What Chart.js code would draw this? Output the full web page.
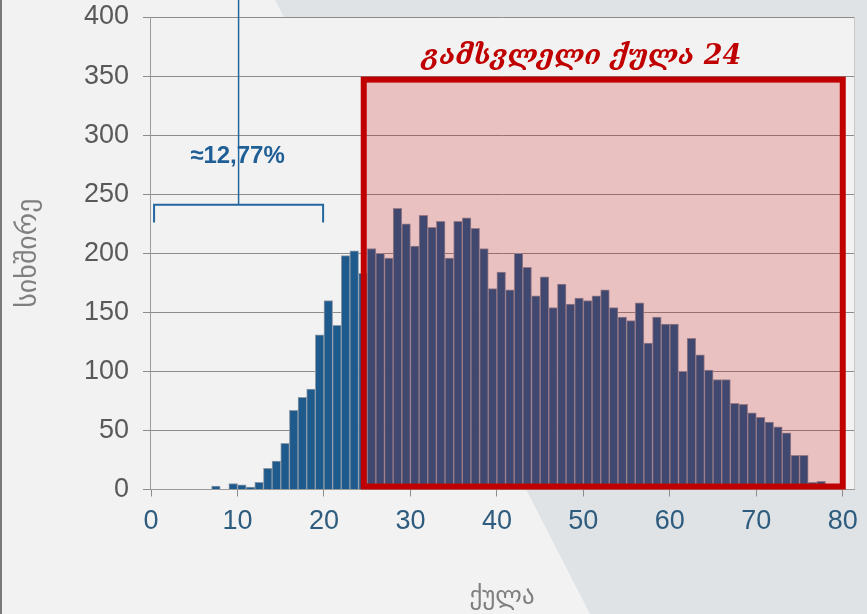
<!DOCTYPE html>
<html>
<head>
<meta charset="utf-8">
<script src="https://cdn.jsdelivr.net/npm/chart.js@4"></script>
<style>
  html, body { margin: 0; padding: 0; background: #f2f2f2; }
  #wrap { width: 867px; height: 614px; }
</style>
</head>
<body>
<div id="wrap"><canvas id="myChart" width="867" height="614"></canvas></div>
<script>
// ქულების განაწილება (0..78), თითო სვეტი = 1 ქულა
const scores = [];
for (let i = 0; i <= 78; i++) scores.push(i);
const counts = [
    0, 0, 0, 0, 0, 0, 0, 3, 0, 5,
    4, 2, 6, 18, 24, 39, 67, 78, 85, 131,
    160, 139, 198, 202, 183, 204, 200, 196, 238, 225,
    206, 232, 222, 227, 196, 227, 230, 221, 204, 170,
    184, 169, 200, 188, 164, 180, 154, 174, 157, 162,
    160, 164, 169, 154, 146, 143, 158, 124, 146, 140,
    140, 100, 128, 114, 101, 93, 93, 73, 72, 65,
    61, 57, 53, 48, 29, 29, 6, 7, 0
];
const xTicks = [0, 10, 20, 30, 40, 50, 60, 70, 80];
const yTicks = [0, 50, 100, 150, 200, 250, 300, 350, 400];

const titleText = 'გამსვლელი ქულა 24';
const shareText = '≈12,77%';
// ანოტაციები მონაცემთა ერთეულებში
const passBox = { x0: 24.6, x1: 80, y0: 0, y1: 347 };
const bracket = { x0: 0.35, x1: 19.9, y: 241, yEnd: 226, top: 420 };
const shareLabel = { x: 10, y: 282 };
const titleLabel = { x: 49.8, y: 366 };

const points = [];
scores.forEach(function(s, i) {
    if (counts[i] > 0) points.push({ x: s + 0.5, y: counts[i] });
});

const slideBg = {
    id: 'slideBg',
    beforeDraw: function(chart) {
        const c = chart.ctx;
        const a = chart.chartArea;
        c.save();
        c.fillStyle = '#f2f2f2';
        c.fillRect(0, 0, chart.width, chart.height);
        c.fillStyle = '#dfe3e6';
        c.beginPath();
        c.moveTo(275, 0);
        c.lineTo(chart.width, 0);
        c.lineTo(chart.width, chart.height);
        c.lineTo(590, chart.height);
        c.closePath();
        c.fill();
        c.fillStyle = '#f2f2f2';
        c.fillRect(a.left, a.top, a.right - a.left, a.bottom - a.top);
        c.strokeStyle = '#c8c8c8';
        c.lineWidth = 1;
        c.beginPath();
        c.moveTo(a.right + 0.5, a.top);
        c.lineTo(a.right + 0.5, a.bottom);
        c.stroke();
        c.fillStyle = '#7a7a7a';
        c.fillRect(0, 0, 2, chart.height);
        c.restore();
    }
};

const overlays = {
    id: 'overlays',
    afterDatasetsDraw: function(chart) {
        const c = chart.ctx;
        const xs = chart.scales.x;
        const ys = chart.scales.y;
        c.save();

        // გამსვლელი ზონა
        const l = xs.getPixelForValue(passBox.x0);
        const r = xs.getPixelForValue(passBox.x1);
        const t = ys.getPixelForValue(passBox.y1);
        const b = ys.getPixelForValue(passBox.y0) - 3;
        c.fillStyle = 'rgba(200, 0, 0, 0.2)';
        c.fillRect(l, t, r - l, b - t);
        c.strokeStyle = '#c00000';
        c.lineWidth = 6;
        c.strokeRect(l, t, r - l, b - t);

        // ფრჩხილი 0-20
        const bx0 = xs.getPixelForValue(bracket.x0);
        const bx1 = xs.getPixelForValue(bracket.x1);
        const bxm = xs.getPixelForValue((bracket.x0 + bracket.x1) / 2);
        const by = ys.getPixelForValue(bracket.y);
        const byEnd = ys.getPixelForValue(bracket.yEnd);
        c.strokeStyle = '#2466a0';
        c.lineWidth = 2;
        c.beginPath();
        c.moveTo(bx0, byEnd);
        c.lineTo(bx0, by);
        c.lineTo(bx1, by);
        c.lineTo(bx1, byEnd);
        c.stroke();
        c.lineWidth = 1.5;
        c.beginPath();
        c.moveTo(bxm, by);
        c.lineTo(bxm, ys.getPixelForValue(bracket.top));
        c.stroke();

        c.fillStyle = '#1f5f96';
        c.font = 'bold 24px "Liberation Sans", Arial, sans-serif';
        c.textAlign = 'center';
        c.textBaseline = 'middle';
        c.fillText(shareText, xs.getPixelForValue(shareLabel.x), ys.getPixelForValue(shareLabel.y));

        c.fillStyle = '#c00000';
        c.font = 'italic bold 27px "DejaVu Serif", serif';
        c.fillText(titleText, xs.getPixelForValue(titleLabel.x), ys.getPixelForValue(titleLabel.y));
        c.restore();
    }
};

const ctx = document.getElementById('myChart').getContext('2d');
const myChart = new Chart(ctx, {
    type: 'bar',
    data: {
        datasets: [{
            label: 'სიხშირე',
            data: points,
            backgroundColor: '#1f5a8c',
            borderColor: '#8d9aa8',
            borderWidth: 1,
            barPercentage: 1,
            categoryPercentage: 1
        }]
    },
    options: {
        responsive: false,
        animation: false,
        layout: { padding: { top: 17, right: 13, left: 0, bottom: 0 } },
        plugins: {
            legend: { display: false },
            tooltip: { enabled: false }
        },
        scales: {
            x: {
                type: 'linear',
                offset: false,
                min: -0.12,
                max: 81.3,
                afterFit: function(scale) { scale.height = 124.5; },
                afterBuildTicks: function(scale) {
                    scale.ticks = xTicks.map(function(v) { return { value: v }; });
                },
                grid: { display: true, offset: false, drawOnChartArea: false, drawTicks: true, tickLength: 7, color: '#8c8c8c' },
                border: { display: true, color: '#9a9a9a', width: 1 },
                ticks: {
                    color: '#2e5c7e',
                    padding: 9,
                    maxRotation: 0,
                    autoSkip: false,
                    font: { family: '"Liberation Sans", Arial, sans-serif', size: 27 }
                },
                title: {
                    display: true,
                    text: 'ქულა',
                    color: '#7f7f7f',
                    padding: { top: 0, bottom: 2 },
                    font: { family: '"DejaVu Sans", sans-serif', size: 25 }
                }
            },
            y: {
                min: 0,
                max: 400,
                afterFit: function(scale) { scale.width = 150; },
                afterBuildTicks: function(scale) {
                    scale.ticks = yTicks.map(function(v) { return { value: v }; });
                },
                grid: { color: '#8c8c8c', tickLength: 7, lineWidth: 1 },
                border: { display: true, color: '#9a9a9a', width: 1 },
                ticks: {
                    color: '#595959',
                    padding: 14,
                    font: { family: '"Liberation Sans", Arial, sans-serif', size: 27, lineHeight: 0.2 }
                },
                title: {
                    display: true,
                    text: 'სიხშირე',
                    color: '#7f7f7f',
                    padding: { top: 12, bottom: 0 },
                    font: { family: '"DejaVu Sans", sans-serif', size: 28 }
                }
            }
        }
    },
    plugins: [slideBg, overlays]
});
</script>
</body>
</html>
